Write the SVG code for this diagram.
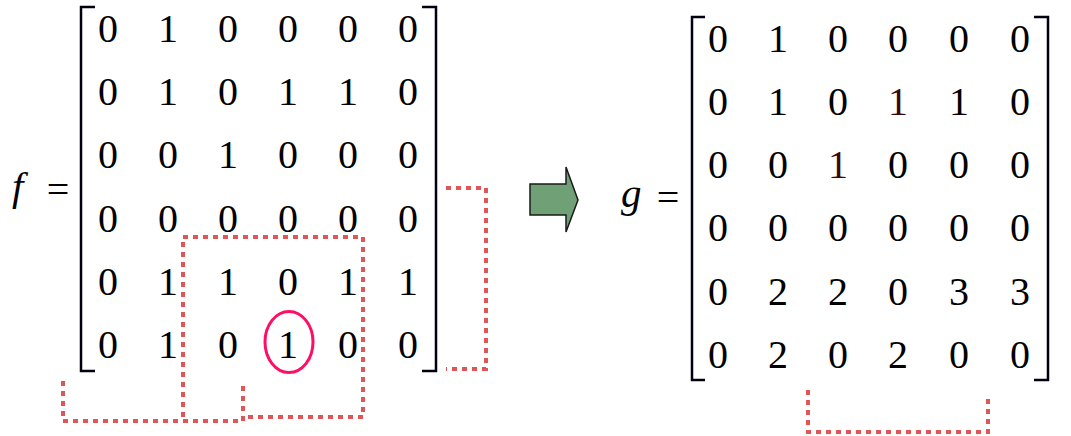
<svg xmlns="http://www.w3.org/2000/svg" width="1071" height="436" viewBox="0 0 1071 436">
<style>
.d{font-family:"Liberation Serif","Times New Roman",serif;font-size:40px;fill:#000;text-anchor:middle}
.i{font-family:"Liberation Serif","Times New Roman",serif;font-style:italic;font-size:41px;fill:#000}
.r{fill:#3a0808}
.br{fill:none;stroke:#000010;stroke-width:2.5}
.dot{fill:none;stroke:#E05555;stroke-width:4;stroke-dasharray:5 5}
</style>
<rect width="1071" height="436" fill="#fff"/>
<g id="f-label">
<text class="i" x="12" y="200">f</text>
<text class="d" x="58" y="203">=</text>
</g>
<g id="matrix-f">
<path class="br" d="M95,7 H81 V371 H95"/>
<path class="br" d="M422,7 H436 V371 H422"/>
<text class="d" y="42"><tspan x="108">0</tspan><tspan x="168">1</tspan><tspan x="228">0</tspan><tspan x="288">0</tspan><tspan x="348">0</tspan><tspan x="408">0</tspan></text>
<text class="d" y="105"><tspan x="108">0</tspan><tspan x="168">1</tspan><tspan x="228">0</tspan><tspan x="288">1</tspan><tspan x="348">1</tspan><tspan x="408">0</tspan></text>
<text class="d" y="168"><tspan x="108">0</tspan><tspan x="168">0</tspan><tspan x="228">1</tspan><tspan x="288">0</tspan><tspan x="348">0</tspan><tspan x="408">0</tspan></text>
<text class="d" y="232"><tspan x="108">0</tspan><tspan x="168">0</tspan><tspan x="228">0</tspan><tspan x="288">0</tspan><tspan x="348">0</tspan><tspan x="408">0</tspan></text>
<text class="d" y="295"><tspan x="108">0</tspan><tspan x="168">1</tspan><tspan x="228">1</tspan><tspan x="288">0</tspan><tspan x="348">1</tspan><tspan x="408">1</tspan></text>
<text class="d" y="358"><tspan x="108">0</tspan><tspan x="168">1</tspan><tspan x="228">0</tspan><tspan x="288">1</tspan><tspan x="348">0</tspan><tspan x="408">0</tspan></text>
</g>
<g id="highlight">
<ellipse cx="289" cy="342" rx="24" ry="30.5" fill="none" stroke="#FF0F64" stroke-width="3"/>
</g>
<g id="dotted-marks">
<path class="dot" d="M183,417 V237 H363 V417 H243"/>
<path class="dot" d="M63,381 V421 H243 V383"/>
<path class="dot" d="M446,188 H486 V369 H446"/>
<path class="dot" d="M808,390 V432 H988 V394"/>
</g>
<g id="arrow">
<polygon points="530,184 566,184 566,167 578,200 566,232 566,215 530,215" fill="#6FA076" stroke="#1a1a1a" stroke-width="1.5"/>
</g>
<g id="g-label">
<text class="i" x="621" y="207">g</text>
<text class="d" x="668" y="211">=</text>
</g>
<g id="matrix-g">
<path class="br" d="M705,17 H692 V380 H705"/>
<path class="br" d="M1034,17 H1048 V380 H1034"/>
<text class="d" y="52"><tspan x="718">0</tspan><tspan x="778">1</tspan><tspan x="838">0</tspan><tspan x="898">0</tspan><tspan x="959">0</tspan><tspan x="1020">0</tspan></text>
<text class="d" y="115"><tspan x="718">0</tspan><tspan x="778">1</tspan><tspan x="838">0</tspan><tspan x="898" class="r">1</tspan><tspan x="959">1</tspan><tspan x="1020">0</tspan></text>
<text class="d" y="178"><tspan x="718">0</tspan><tspan x="778">0</tspan><tspan x="838" class="r">1</tspan><tspan x="898">0</tspan><tspan x="959">0</tspan><tspan x="1020">0</tspan></text>
<text class="d" y="241"><tspan x="718">0</tspan><tspan x="778">0</tspan><tspan x="838">0</tspan><tspan x="898">0</tspan><tspan x="959">0</tspan><tspan x="1020">0</tspan></text>
<text class="d" y="305"><tspan x="718">0</tspan><tspan x="778">2</tspan><tspan x="838">2</tspan><tspan x="898">0</tspan><tspan x="959">3</tspan><tspan x="1020">3</tspan></text>
<text class="d" y="368"><tspan x="718">0</tspan><tspan x="778">2</tspan><tspan x="838">0</tspan><tspan x="898">2</tspan><tspan x="959">0</tspan><tspan x="1020">0</tspan></text>
</g>
</svg>
